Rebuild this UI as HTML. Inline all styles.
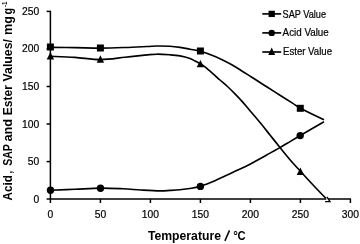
<!DOCTYPE html>
<html><head><meta charset="utf-8"><title>chart</title>
<style>html,body{margin:0;padding:0;background:#fff;}svg{display:block;will-change:transform;filter:blur(0.35px);}</style></head>
<body>
<svg width="360" height="244" viewBox="0 0 360 244">
<rect width="360" height="244" fill="#fff"/>
<g stroke="#000" stroke-width="1.5" fill="none">
<path d="M50.4,10.8 V203.0"/>
<path d="M46.6,199.1 H351.0"/>
<path d="M46.6,11.4 H50.4"/>
<path d="M46.6,48.9 H50.4"/>
<path d="M46.6,86.5 H50.4"/>
<path d="M46.6,124.0 H50.4"/>
<path d="M46.6,161.6 H50.4"/>
<path d="M100.4,199.1 V203.0"/>
<path d="M150.4,199.1 V203.0"/>
<path d="M200.4,199.1 V203.0"/>
<path d="M250.4,199.1 V203.0"/>
<path d="M300.4,199.1 V203.0"/>
<path d="M350.4,199.1 V203.0"/>
</g>
<g stroke="#000" stroke-width="1.65" fill="none" stroke-linejoin="round">
<path d="M50.50,47.40 C54.58,47.43 66.67,47.48 75.00,47.60 C83.33,47.72 92.17,48.12 100.50,48.10 C108.83,48.08 117.25,47.77 125.00,47.50 C132.75,47.23 141.67,46.75 147.00,46.50 C152.33,46.25 153.17,46.03 157.00,46.00 C160.83,45.97 166.17,46.07 170.00,46.30 C173.83,46.53 176.67,46.92 180.00,47.40 C183.33,47.88 186.58,48.57 190.00,49.20 C193.42,49.83 197.17,50.30 200.50,51.20 C203.83,52.10 206.75,53.35 210.00,54.60 C213.25,55.85 216.67,57.17 220.00,58.70 C223.33,60.23 226.67,61.97 230.00,63.80 C233.33,65.63 236.67,67.65 240.00,69.70 C243.33,71.75 247.50,74.50 250.00,76.10 C252.50,77.70 252.08,77.43 255.00,79.30 C257.92,81.17 263.33,84.65 267.50,87.30 C271.67,89.95 275.83,92.57 280.00,95.20 C284.17,97.83 289.12,100.93 292.50,103.10 C295.88,105.27 295.05,105.42 300.30,108.20 C305.55,110.98 320.05,117.87 324.00,119.80"/>
<path d="M50.50,56.30 C54.58,56.48 66.67,56.85 75.00,57.40 C83.33,57.95 92.17,59.62 100.50,59.60 C108.83,59.58 117.25,58.08 125.00,57.30 C132.75,56.52 141.67,55.42 147.00,54.90 C152.33,54.38 153.17,54.22 157.00,54.20 C160.83,54.18 166.17,54.52 170.00,54.80 C173.83,55.08 176.67,55.28 180.00,55.90 C183.33,56.52 187.50,57.65 190.00,58.50 C192.50,59.35 193.25,60.12 195.00,61.00 C196.75,61.88 198.83,62.82 200.50,63.80 C202.17,64.78 202.79,65.13 205.00,66.90 C207.21,68.67 211.25,72.22 213.75,74.40 C216.25,76.58 217.71,77.98 220.00,80.00 C222.29,82.02 225.00,84.18 227.50,86.50 C230.00,88.82 232.50,91.33 235.00,93.90 C237.50,96.47 240.10,99.22 242.50,101.90 C244.90,104.58 246.48,106.57 249.40,110.00 C252.32,113.43 256.57,118.33 260.00,122.50 C263.43,126.67 266.67,130.83 270.00,135.00 C273.33,139.17 276.67,143.38 280.00,147.50 C283.33,151.62 286.60,155.75 290.00,159.70 C293.40,163.65 296.55,166.98 300.40,171.20 C304.25,175.42 308.87,180.48 313.10,185.00 C317.33,189.52 323.68,196.08 325.80,198.30"/>
<path d="M50.50,190.30 C54.58,190.13 66.67,189.67 75.00,189.30 C83.33,188.93 92.50,188.18 100.50,188.10 C108.50,188.02 116.25,188.48 123.00,188.80 C129.75,189.12 134.83,189.65 141.00,190.00 C147.17,190.35 155.17,190.83 160.00,190.90 C164.83,190.97 166.67,190.60 170.00,190.40 C173.33,190.20 176.67,190.02 180.00,189.70 C183.33,189.38 186.58,189.05 190.00,188.50 C193.42,187.95 197.58,187.20 200.50,186.40 C203.42,185.60 205.08,184.65 207.50,183.70 C209.92,182.75 212.08,181.97 215.00,180.70 C217.92,179.43 221.67,177.67 225.00,176.10 C228.33,174.53 231.67,172.87 235.00,171.30 C238.33,169.73 242.50,167.88 245.00,166.70 C247.50,165.52 247.50,165.52 250.00,164.20 C252.50,162.88 256.67,160.65 260.00,158.80 C263.33,156.95 266.67,154.97 270.00,153.10 C273.33,151.23 276.67,149.52 280.00,147.60 C283.33,145.68 286.62,143.62 290.00,141.60 C293.38,139.58 294.63,138.80 300.30,135.50 C305.97,132.20 320.05,124.08 324.00,121.80"/>
<path d="M262.3,13.9 H281.2"/>
<path d="M262.3,32.9 H281.2"/>
<path d="M262.3,52.0 H281.2"/>
</g>
<g fill="#000">
<rect x="46.90" y="43.50" width="7.00" height="7.00"/>
<rect x="96.90" y="44.50" width="7.00" height="7.00"/>
<rect x="196.90" y="47.50" width="7.00" height="7.00"/>
<rect x="296.80" y="104.80" width="7.00" height="7.00"/>
<circle cx="50.50" cy="190.20" r="3.70"/>
<circle cx="100.50" cy="188.20" r="3.70"/>
<circle cx="200.40" cy="186.40" r="3.70"/>
<circle cx="300.20" cy="135.60" r="3.70"/>
<polygon points="50.40,52.00 54.10,59.40 46.70,59.40"/>
<polygon points="100.40,55.30 104.10,62.70 96.70,62.70"/>
<polygon points="200.40,59.90 204.10,67.30 196.70,67.30"/>
<polygon points="300.40,167.50 304.10,174.90 296.70,174.90"/>
<rect x="268.55" y="10.75" width="6.30" height="6.30"/>
<circle cx="271.70" cy="32.90" r="3.20"/>
<polygon points="271.70,47.60 275.20,55.00 268.20,55.00"/>
</g>
<polygon points="326.5,196.0 330.9,202.4 324.6,202.4 324.9,200.0 326.3,199.9" fill="#fff"/>
<polyline points="326.9,196.9 330.0,201.7 325.1,201.7" fill="none" stroke="#000" stroke-width="1.3"/>
<g font-family="Liberation Sans, sans-serif" font-size="10.3" fill="#000" stroke="#000" stroke-width="0.2">
<text x="39.2" y="14.9" text-anchor="end">250</text>
<text x="39.2" y="52.4" text-anchor="end">200</text>
<text x="39.2" y="90.0" text-anchor="end">150</text>
<text x="39.2" y="127.5" text-anchor="end">100</text>
<text x="39.2" y="165.1" text-anchor="end">50</text>
<text x="39.2" y="202.6" text-anchor="end">0</text>
<text x="50.4" y="218.0" text-anchor="middle">0</text>
<text x="100.4" y="218.0" text-anchor="middle">50</text>
<text x="150.4" y="218.0" text-anchor="middle">100</text>
<text x="200.4" y="218.0" text-anchor="middle">150</text>
<text x="250.4" y="218.0" text-anchor="middle">200</text>
<text x="300.4" y="218.0" text-anchor="middle">250</text>
<text x="350.4" y="218.0" text-anchor="middle">300</text>
<text x="282.6" y="17.5" textLength="43.4" lengthAdjust="spacingAndGlyphs">SAP Value</text>
<text x="282.6" y="36" textLength="46.2" lengthAdjust="spacingAndGlyphs">Acid Value</text>
<text x="283" y="54.9" textLength="49.0" lengthAdjust="spacingAndGlyphs">Ester Value</text>
</g>
<g font-family="Liberation Sans, sans-serif" font-weight="bold" fill="#000">
<text x="147.9" y="239.5" font-size="12.6" textLength="73.1" lengthAdjust="spacingAndGlyphs">Temperature</text>
<path d="M229.5,230.4 L224.9,240.9" stroke="#000" stroke-width="1.5" fill="none"/>
<text x="233.2" y="239.5" font-size="12.6" textLength="4.6" lengthAdjust="spacingAndGlyphs">°</text>
<text x="237.4" y="239.5" font-size="12.6" textLength="8.1" lengthAdjust="spacingAndGlyphs">C</text>
<text transform="translate(12.0,200.40) rotate(-90)" font-size="12" textLength="25.20" lengthAdjust="spacingAndGlyphs">Acid</text>
<text transform="translate(12.0,173.40) rotate(-90)" font-size="12" textLength="2.50" lengthAdjust="spacingAndGlyphs">,</text>
<text transform="translate(12.0,165.80) rotate(-90)" font-size="12" textLength="21.70" lengthAdjust="spacingAndGlyphs">SAP</text>
<text transform="translate(12.0,141.60) rotate(-90)" font-size="12" textLength="22.80" lengthAdjust="spacingAndGlyphs">and</text>
<text transform="translate(12.0,115.20) rotate(-90)" font-size="12" textLength="30.20" lengthAdjust="spacingAndGlyphs">Ester</text>
<text transform="translate(12.0,81.40) rotate(-90)" font-size="12" textLength="42.30" lengthAdjust="spacingAndGlyphs">Values/</text>
<text transform="translate(12.0,35.00) rotate(-90)" font-size="12" textLength="18.90" lengthAdjust="spacingAndGlyphs">mg</text>
<text transform="translate(12.0,14.60) rotate(-90)" font-size="12" textLength="6.60" lengthAdjust="spacingAndGlyphs">g</text>
<text transform="translate(7.0,7.0) rotate(-90)" font-size="7.5" textLength="5.6" lengthAdjust="spacingAndGlyphs">-1</text>
</g>
</svg>
</body></html>
